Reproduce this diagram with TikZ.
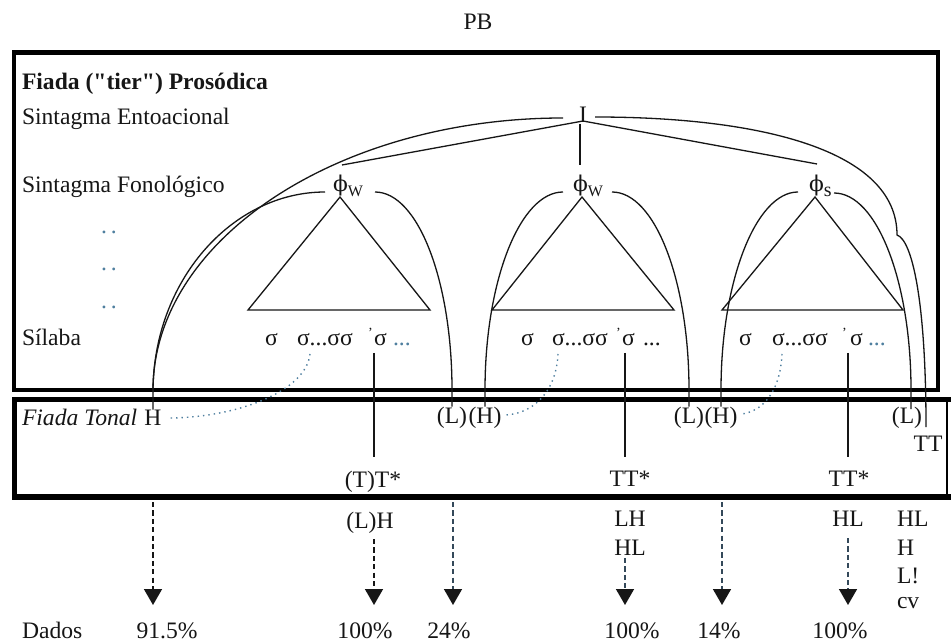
\documentclass[tikz,border=0pt]{standalone}
\usepackage{fontspec}
\setmainfont{Liberation Serif}
\newfontfamily\phifont[Scale=0.92]{DejaVu Serif}
\usetikzlibrary{arrows.meta}
\definecolor{ink}{HTML}{161616}
\definecolor{dotblue}{HTML}{4F7F9F}
\definecolor{arrblue}{HTML}{34495A}
\newcommand{\myphi}{{\phifont ϕ}}
\begin{document}
\begin{tikzpicture}[x=0.5pt,y=-0.5pt,
  every node/.style={inner sep=0pt,outer sep=0pt,font=\fontsize{11.8}{14}\selectfont,text=ink},
  lbl/.style={anchor=base west},
  ctr/.style={anchor=base},
  thinline/.style={line width=0.65pt,draw=ink},
  dotc/.style={line width=0.7pt,draw=dotblue,dotted},
  darr/.style={line width=0.8pt,dash pattern=on 2.6pt off 1.6pt,-{Triangle[width=9pt,length=8pt,color=ink,fill=ink]}},
]
\useasboundingbox (0,0) rectangle (951,640);
\fill[white] (0,0) rectangle (951,640);

% boxes
\draw[line width=2.2pt] (14,52.5) rectangle (938,390);
\draw[line width=2.8pt] (951,399.5) -- (14.5,399.5) -- (14.5,497) -- (951,497);
\draw[line width=0.6pt] (947,399.5) -- (947,497);

% title
\node[ctr] (pb) at (478,30) {PB};

% left labels
\node[lbl,font=\bfseries\fontsize{11.8}{14}\selectfont] (tier) at (22,90) {Fiada (\textquotedbl tier\textquotedbl) Prosódica};
\node[lbl] (se) at (22,125) {Sintagma Entoacional};
\node[lbl] (sf) at (22,193) {Sintagma Fonológico};
\node[lbl,text=dotblue] (d1) at (101,234) {.\hspace{2pt}.};
\node[lbl,text=dotblue] (d2) at (101,271) {.\hspace{2pt}.};
\node[lbl,text=dotblue] (d3) at (101,309) {.\hspace{2pt}.};
\node[lbl] (sil) at (22,346) {Sílaba};

% tree nodes
\node[ctr] (I) at (583,123) {I};
\node[lbl] (p1) at (333,192) {\myphi\raisebox{-2.5pt}{\fontsize{8}{8}\selectfont W}};
\node[lbl] (p2) at (573,192) {\myphi\raisebox{-2.5pt}{\fontsize{8}{8}\selectfont W}};
\node[lbl] (p3) at (809,192) {\myphi\raisebox{-2.5pt}{\fontsize{10}{10}\selectfont s}};

% triangles
\draw[thinline] (340,197) -- (248,310) -- (430,310) -- cycle;
\draw[thinline] (582,197) -- (492,310) -- (674,310) -- cycle;
\draw[thinline] (815,197) -- (722,310) -- (903,310) -- cycle;

% syllables
\node[lbl] (s1a) at (265,346) {σ};
\node[lbl] (s1b) at (297,346) {σ...σσ};
\node[lbl] (s1q) at (368,338) {\fontsize{7}{7}\selectfont '};
\node[lbl] (s1c) at (374,346) {σ};
\node[lbl,text=dotblue] (s1d) at (393,346) {...};
\node[lbl] (s2a) at (521,346) {σ};
\node[lbl] (s2b) at (552,346) {σ...σσ};
\node[lbl] (s2q) at (616,338) {\fontsize{7}{7}\selectfont '};
\node[lbl] (s2c) at (622,346) {σ};
\node[lbl] (s2d) at (643,346) {...};
\node[lbl] (s3a) at (739,346) {σ};
\node[lbl] (s3b) at (772,346) {σ...σσ};
\node[lbl] (s3q) at (842,338) {\fontsize{7}{7}\selectfont '};
\node[lbl] (s3c) at (850,346) {σ};
\node[lbl,text=dotblue] (s3d) at (868,346) {...};

% tonal tier
\node[lbl,font=\itshape\fontsize{11.8}{14}\selectfont] (ft) at (22,425) {Fiada Tonal};
\node[ctr] (H0) at (153,425) {H};
\node[ctr] (L1) at (452,423) {(L)};
\node[ctr] (H1) at (485,423) {(H)};
\node[ctr] (L2) at (689,423) {(L)};
\node[ctr] (H2) at (721,423) {(H)};
\node[ctr] (L3) at (907,423) {(L)};
\node[ctr] (TT) at (928,451) {TT};
\node[ctr] (T1) at (373,487) {(T)T*};
\node[ctr] (T2) at (630,486) {TT*};
\node[ctr] (T3) at (849,486) {TT*};

% below
\node[ctr] (LH0) at (370,528) {(L)H};
\node[ctr] (LH2) at (630,526) {LH};
\node[ctr] (HL2) at (630,555) {HL};
\node[ctr] (HL3) at (848,526) {HL};
\node[lbl] (r1) at (897,526) {HL};
\node[lbl] (r2) at (897,555) {H};
\node[lbl] (r3) at (897,583) {L!};
\node[lbl] (r4) at (897,608) {cv};

\node[lbl] (dados) at (22,638) {Dados};
\node[ctr] (v1) at (167,638) {91.5\%};
\node[ctr] (v2) at (365,638) {100\%};
\node[ctr] (v3) at (449,638) {24\%};
\node[ctr] (v4) at (632,638) {100\%};
\node[ctr] (v5) at (719,638) {14\%};
\node[ctr] (v6) at (840,638) {100\%};

% coordinates
\coordinate (Iw) at (563,118);
\coordinate (Ie) at (595,117);
\coordinate (Ibot) at (583,121);
\coordinate (p1top) at (342,165);
\coordinate (p2top) at (580,165);
\coordinate (p3top) at (817,164);
\coordinate (p1l) at (325,192);
\coordinate (p1r) at (375,192);
\coordinate (p2l) at (563,192);
\coordinate (p2r) at (612,192);
\coordinate (p3l) at (798,192);
\coordinate (p3r) at (834,193);
\coordinate (bump) at (897,235);
\coordinate (ttend) at (926,427);
\coordinate (L3top) at (911,409);

% I connections
\draw[thinline] (Ibot) -- (p1top);
\draw[thinline] (580,124) -- (p2top);
\draw[thinline] (Ibot) -- (p3top);
\draw[thinline] (Iw) .. controls (338,118) and (153,240) .. (153,390) -- (H0.north);
\draw[thinline] (Ie) .. controls (760,117) and (897,150) .. (bump)
  .. controls (912,240) and (926,300) .. (ttend);

% phi arcs
\draw[thinline] (p1l) .. controls (232,192) and (153,281) .. (153,392);
\draw[thinline] (p1r) .. controls (418,192) and (452,281) .. (452,390) -- (L1.north);
\draw[thinline] (p2l) .. controls (520,192) and (485,281) .. (485,390) -- (H1.north);
\draw[thinline] (p2r) .. controls (655,192) and (689,281) .. (689,390) -- (L2.north);
\draw[thinline] (p3l) .. controls (756,192) and (721,281) .. (721,390) -- (H2.north);
\draw[thinline] (p3r) .. controls (877,193) and (911,282) .. (911,390) -- (L3top);

% stressed syllable lines
\coordinate (t1top) at (374,457);
\coordinate (t2top) at (625,457);
\coordinate (t3top) at (848,457);
\draw[thinline] (374,353) -- (t1top);
\draw[thinline] (625,353) -- (t2top);
\draw[thinline] (848,353) -- (t3top);

% dotted associations
\draw[dotc] (310,354) .. controls (306,392) and (235,418) .. ([xshift=3pt]H0.east |- 0,418);
\draw[dotc] (558,354) .. controls (556,395) and (530,414) .. ([xshift=2pt]H1.east |- 0,415);
\draw[dotc] (782,354) .. controls (780,395) and (760,412) .. ([xshift=2pt]H2.east |- 0,414);

% dashed arrows
\coordinate (a1e) at (153,605);
\coordinate (a2e) at (374,605);
\coordinate (a3e) at (453,605);
\coordinate (a4e) at (625,605);
\coordinate (a5e) at (722,605);
\coordinate (a6e) at (848,605);
\draw[darr,draw=ink] (153,502) -- (a1e);
\draw[darr,draw=ink] (LH0.south -| 374,0) ++(0,6) -- (a2e);
\draw[darr,draw=arrblue] (453,502) -- (a3e);
\draw[darr,draw=arrblue] (625,558) -- (a4e);
\draw[darr,draw=arrblue] (722,502) -- (a5e);
\draw[darr,draw=arrblue] (848,538) -- (a6e);
\end{tikzpicture}
\end{document}
